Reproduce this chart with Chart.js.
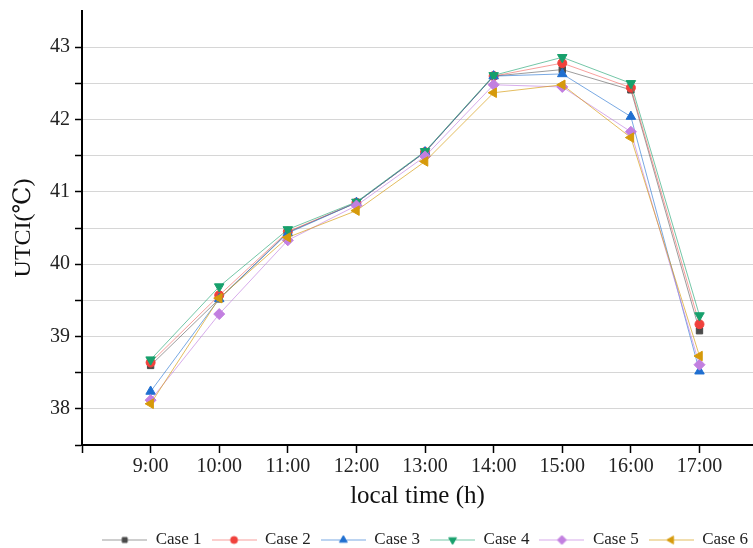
<!DOCTYPE html>
<html>
<head>
<meta charset="utf-8">
<script src="https://cdn.jsdelivr.net/npm/chart.js@4"></script>
<style>
  html, body { margin: 0; padding: 0; background: #fff; }
  #wrap { width: 753px; height: 548px; }
</style>
</head>
<body>
<div id="wrap"><canvas id="utci-chart" width="753" height="548"></canvas></div>
<script>
// UTCI by local time, six cases
const hours = [9, 10, 11, 12, 13, 14, 15, 16, 17];
const hourTicks = [8, 9, 10, 11, 12, 13, 14, 15, 16, 17];
const caseNames = ['Case 1', 'Case 2', 'Case 3', 'Case 4', 'Case 5', 'Case 6'];

const case1 = [38.60, 39.52, 40.44, 40.85, 41.55, 42.60, 42.69, 42.41, 39.08];
const case2 = [38.64, 39.57, 40.45, 40.85, 41.55, 42.60, 42.78, 42.44, 39.17];
const case3 = [38.24, 39.52, 40.43, 40.85, 41.55, 42.60, 42.63, 42.04, 38.52];
const case4 = [38.68, 39.69, 40.48, 40.86, 41.56, 42.61, 42.86, 42.50, 39.29];
const case5 = [38.12, 39.31, 40.33, 40.81, 41.49, 42.48, 42.45, 41.83, 38.61];
const case6 = [38.07, 39.53, 40.37, 40.74, 41.42, 42.37, 42.48, 41.75, 38.73];

const yTicks = [37.5, 38, 38.5, 39, 39.5, 40, 40.5, 41, 41.5, 42, 42.5, 43, 43.5];

// marker look per case
const styles = [
  { color: '#4a4a4a', line: 'rgba(90,90,90,0.6)',    shape: 'rect',     rot: 0,   r: 4.5 },
  { color: '#f0413c', line: 'rgba(240,65,60,0.5)',   shape: 'circle',   rot: 0,   r: 4.5 },
  { color: '#1f6fd0', line: 'rgba(31,111,208,0.6)',  shape: 'triangle', rot: 0,   r: 5.5 },
  { color: '#17a06c', line: 'rgba(23,160,108,0.6)',  shape: 'triangle', rot: 180, r: 5.5 },
  { color: '#c27fe0', line: 'rgba(194,127,224,0.65)', shape: 'rectRot', rot: 0,   r: 5.5 },
  { color: '#d69a0b', line: 'rgba(214,154,11,0.65)', shape: 'triangle', rot: 270, r: 5.5 }
];

const FONT = "'Liberation Serif', 'DejaVu Serif', serif";

// little line + marker picture for the legend
function legendIcon(s) {
  const c = document.createElement('canvas');
  c.width = 45; c.height = 14;
  const g = c.getContext('2d');
  g.strokeStyle = s.line;
  g.lineWidth = 1;
  g.beginPath(); g.moveTo(0, 7.5); g.lineTo(45, 7.5); g.stroke();
  g.fillStyle = s.color;
  g.strokeStyle = s.color;
  Chart.helpers.drawPoint(g, { pointStyle: s.shape, rotation: s.rot, radius: s.r - 1, borderWidth: 1 }, 22.5, 7.5);
  return c;
}

const series = [case1, case2, case3, case4, case5, case6];

const datasets = series.map((vals, i) => ({
  label: caseNames[i],
  data: hours.map((h, j) => ({ x: h, y: vals[j] })),
  order: series.length - i,
  borderColor: styles[i].line,
  backgroundColor: styles[i].color,
  borderWidth: 1,
  pointStyle: styles[i].shape,
  rotation: styles[i].rot,
  pointRadius: styles[i].r,
  pointBorderColor: styles[i].color,
  pointBackgroundColor: styles[i].color,
  pointBorderWidth: 1,
  tension: 0
}));

const icons = styles.map(legendIcon);

new Chart(document.getElementById('utci-chart'), {
  type: 'line',
  data: { datasets: datasets },
  options: {
    responsive: false,
    animation: false,
    layout: { autoPadding: false, padding: { top: 11, right: -5, left: 0, bottom: -10 } },
    plugins: {
      tooltip: { enabled: false },
      legend: {
        position: 'bottom',
        align: 'end',
        labels: {
          usePointStyle: true,
          pointStyleWidth: 45,
          boxHeight: 14,
          padding: 10,
          color: '#222',
          font: { family: FONT, size: 17 },
          generateLabels: chart => chart.data.datasets.map((ds, i) => ({
            text: ds.label,
            pointStyle: icons[i],
            fillStyle: styles[i].color,
            strokeStyle: styles[i].color,
            lineWidth: 0,
            hidden: false,
            fontColor: '#222',
            datasetIndex: i
          }))
        }
      }
    },
    scales: {
      x: {
        type: 'linear',
        min: 8,
        max: 17.78,
        afterBuildTicks: s => { s.ticks = hourTicks.map(v => ({ value: v })); },
        afterFit: s => { s.height = 76; s.paddingLeft = 0; s.paddingRight = 0; },
        ticks: {
          color: '#222',
          padding: 2,
          maxRotation: 0,
          autoSkip: false,
          font: { family: FONT, size: 20 },
          callback: v => (v === 8 ? '' : v + ':00')
        },
        grid: { drawOnChartArea: false, drawTicks: true, tickLength: 8, tickColor: '#000', tickWidth: 1.5 },
        border: { color: '#000', width: 2 },
        title: {
          display: true,
          text: 'local time (h)',
          color: '#111',
          font: { family: FONT, size: 25 },
          padding: { top: 0, bottom: 10 }
        }
      },
      y: {
        min: 37.5,
        max: 43.5,
        afterBuildTicks: s => { s.ticks = yTicks.map(v => ({ value: v })); },
        afterFit: s => { s.width = 82; s.paddingTop = 0; s.paddingBottom = 0; },
        ticks: {
          color: '#222',
          padding: 5,
          font: { family: FONT, size: 20 },
          callback: v => (Number.isInteger(v) ? String(v) : '')
        },
        grid: {
          color: c => (c.tick && (c.tick.value === 37.5 || c.tick.value === 43.5)) ? 'rgba(0,0,0,0)' : '#d6d6d6',
          lineWidth: 1,
          tickLength: 7,
          tickColor: c => (c.tick && c.tick.value === 43.5) ? 'rgba(0,0,0,0)' : '#000',
          tickWidth: 1.5
        },
        border: { color: '#000', width: 2 },
        title: {
          display: true,
          text: 'UTCI(℃)',
          color: '#111',
          font: { family: FONT, size: 24 },
          padding: { top: 9, bottom: 0 }
        }
      }
    }
  }
});
</script>
</body>
</html>
